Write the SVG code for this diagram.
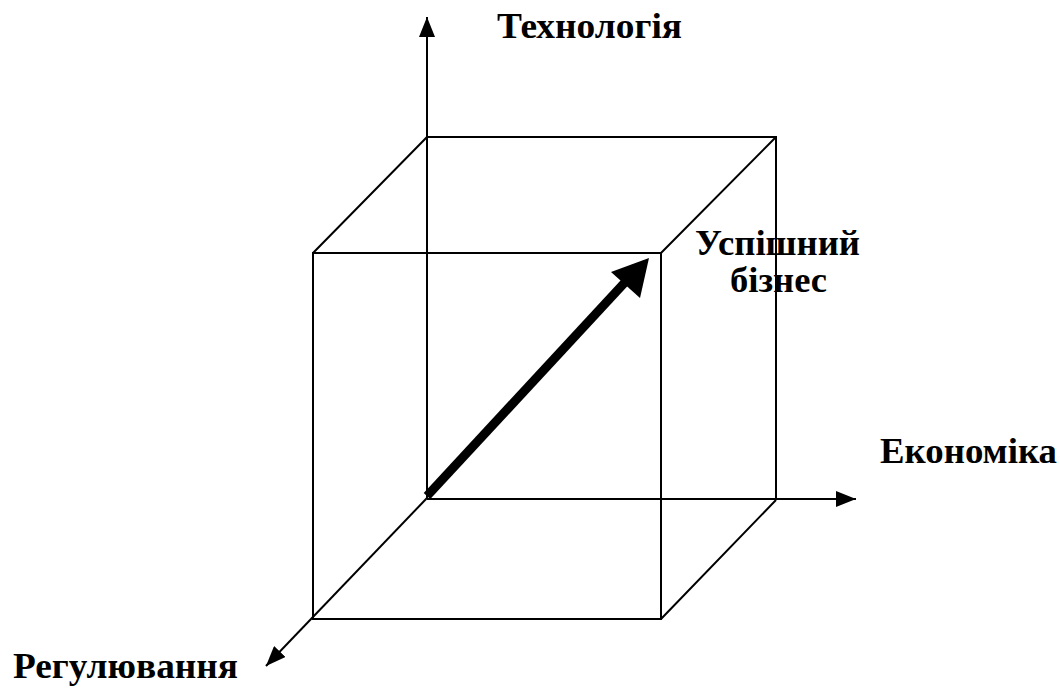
<svg xmlns="http://www.w3.org/2000/svg" width="1060" height="694" viewBox="0 0 1060 694">
<defs>
<style>
.edge{stroke:#000;stroke-width:2;fill:none}
.axis{stroke:#000;stroke-width:2;fill:none}
.lbl{font-family:"Liberation Serif","Times New Roman",serif;font-weight:bold;font-size:35px;fill:#000}
</style>
<marker id="ahs" viewBox="0 0 20 16" refX="20" refY="8" markerWidth="20" markerHeight="16" markerUnits="userSpaceOnUse" orient="auto">
<path d="M0,0 L20,8 L0,16 z" fill="#000"/>
</marker>
</defs>
<rect width="1060" height="694" fill="#fff"/>
<g id="cube">
<path class="edge" d="M427,137 L776,137 L776,500 M313,253 L661,253 L661,619 L313,619 Z M313,253 L427,137 M661,253 L776,137 M661,619 L776,500"/>
</g>
<g id="connectors">
<line class="axis" x1="427" y1="498" x2="427" y2="17" marker-end="url(#ahs)"/>
<line class="axis" x1="427" y1="499" x2="856" y2="499" marker-end="url(#ahs)"/>
<line class="axis" x1="427" y1="498" x2="266" y2="666" marker-end="url(#ahs)"/>
<line x1="427" y1="496" x2="628" y2="279" stroke="#000" stroke-width="9"/>
<path d="M649,258 L640,298 L611,272 Z" fill="#000"/>
</g>
<g id="tech"><text class="lbl" x="497" y="38" textLength="185" lengthAdjust="spacingAndGlyphs">Технологія</text></g>
<g id="success"><text class="lbl" x="695" y="255" textLength="165" lengthAdjust="spacingAndGlyphs">Успішний</text>
<text class="lbl" x="730" y="292" textLength="97" lengthAdjust="spacingAndGlyphs">бізнес</text></g>
<g id="econ"><text class="lbl" x="880" y="463" textLength="177" lengthAdjust="spacingAndGlyphs">Економіка</text></g>
<g id="reg"><text class="lbl" x="13" y="678" textLength="225" lengthAdjust="spacingAndGlyphs">Регулювання</text></g>
</svg>
